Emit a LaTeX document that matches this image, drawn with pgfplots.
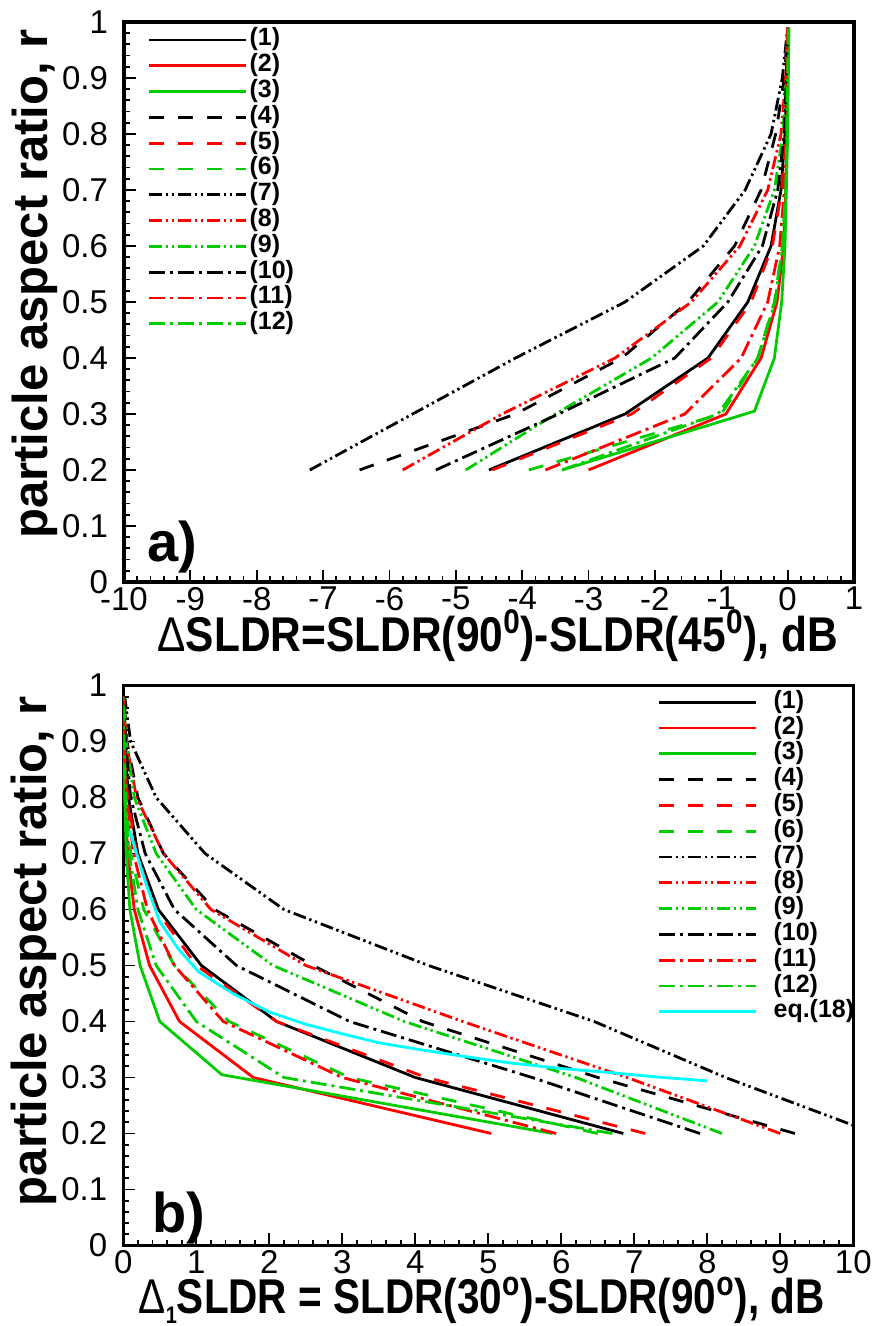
\documentclass[border=0pt]{standalone}
\usepackage{fontspec}
\setmainfont{Liberation Sans}
\newfontfamily\labfont[FakeStretch=0.87]{Liberation Sans}
\newfontfamily\labfontb[FakeStretch=0.83]{Liberation Sans}
\usepackage{pgfplots}
\pgfplotsset{compat=1.18}
\definecolor{myred}{RGB}{255,0,0}
\definecolor{mygreen}{RGB}{0,204,0}
\definecolor{mycyan}{RGB}{0,255,255}
\pgfplotsset{
 dsh/.style={dash pattern=on 7.5pt off 7pt},
 ddd/.style={dash pattern=on 6.5pt off 2pt on 1.2pt off 1.8pt on 1.2pt off 1.8pt},
 dd/.style={dash pattern=on 8pt off 2.5pt on 1.5pt off 2.5pt},
 myaxis/.style={
  scale only axis, width=365pt, height=280pt,
  ymin=0, ymax=1,
  ytick={0,0.1,0.2,0.3,0.4,0.5,0.6,0.7,0.8,0.9,1},
  yticklabels={0,0.1,0.2,0.3,0.4,0.5,0.6,0.7,0.8,0.9,1},
  minor y tick num=4, minor x tick num=4,
  xtick pos=left, ytick pos=left,
  tick align=inside,
  major tick length=6pt, minor tick length=3pt,
  tick style={black, line width=0.9pt},
  axis line style={line width=1.7pt},
  tick label style={font=\fontsize{16.5}{16.5}\selectfont},
  yticklabel style={xshift=-4.5pt},
  xticklabel style={yshift=1pt},
  ylabel={particle aspect ratio, r},
  ylabel style={font=\fontsize{24.5}{24.5}\selectfont\bfseries, inner sep=0pt, anchor=south},
  xlabel style={inner sep=0pt, anchor=base},
  every axis plot/.append style={line width=1.4pt},
  legend image code/.code={\draw[line width=1.4pt,##1] (0pt,0pt) -- (48.5pt,0pt);},
  legend style={draw=none, fill=none, font=\fontsize{12.5}{12.5}\selectfont\bfseries,
    nodes={inner sep=0pt, text height=9.2pt, text depth=3.2pt, anchor=west}, row sep=0.5pt},
  legend cell align=left,
 }
}
\begin{document}
\begin{tikzpicture}
\useasboundingbox (0,0) rectangle (437pt,663pt);
% ---------------- panel a ----------------
\begin{axis}[myaxis,
  at={(62pt,372pt)}, anchor=south west,
  xmin=-10, xmax=1,
  xtick={-10,-9,-8,-7,-6,-5,-4,-3,-2,-1,0,1},
  xticklabels={-10,-9,-8,-7,-6,-5,-4,-3,-2,-1,0,1},
  xlabel={{\mdseries Δ}SLDR=SLDR(90\textsuperscript{0})-SLDR(45\textsuperscript{0}), dB},
  xlabel style={font=\labfont\fontsize{24.4}{24.4}\selectfont\bfseries, at={(axis description cs:0.512,0)}, yshift=-35pt},
  ylabel style={at={(axis description cs:-0.0904,0.532)}},
  legend style={at={(axis description cs:0.0233,0.998)}, anchor=north west},
]
\addplot[black] coordinates {(-4.5,0.2)(-2.45,0.3)(-1.2,0.4)(-0.6,0.5)(-0.25,0.6)(-0.1,0.7)(-0.04,0.8)(-0.01,0.9)(0,0.99)};
\addlegendentry{\hspace{1.2pt}(1)}
\addplot[myred] coordinates {(-3.0,0.2)(-0.93,0.3)(-0.4,0.4)(-0.16,0.5)(-0.06,0.6)(-0.03,0.7)(-0.01,0.8)(0,0.9)(0.01,0.99)};
\addlegendentry{\hspace{1.2pt}(2)}
\addplot[mygreen] coordinates {(-3.4,0.2)(-0.5,0.305)(-0.2,0.4)(-0.09,0.5)(-0.04,0.6)(-0.02,0.7)(0,0.8)(0.01,0.9)(0.02,0.99)};
\addlegendentry{\hspace{1.2pt}(3)}
\addplot[black,dsh] coordinates {(-6.45,0.2)(-4.1,0.3)(-2.5,0.4)(-1.5,0.5)(-0.8,0.6)(-0.4,0.7)(-0.18,0.8)(-0.05,0.9)(0,0.99)};
\addlegendentry{\hspace{1.2pt}(4)}
\addplot[myred,dsh] coordinates {(-4.45,0.2)(-2.35,0.3)(-1.15,0.4)(-0.55,0.5)(-0.23,0.6)(-0.09,0.7)(-0.03,0.8)(-0.01,0.9)(0,0.99)};
\addlegendentry{\hspace{1.2pt}(5)}
\addplot[mygreen,dsh] coordinates {(-3.9,0.2)(-1.0,0.3)(-0.45,0.4)(-0.2,0.5)(-0.08,0.6)(-0.03,0.7)(-0.01,0.8)(0,0.9)(0.01,0.99)};
\addlegendentry{\hspace{1.2pt}(6)}
\addplot[black,ddd] coordinates {(-7.2,0.2)(-5.65,0.3)(-4.1,0.4)(-2.45,0.5)(-1.27,0.6)(-0.64,0.7)(-0.25,0.8)(-0.08,0.9)(0,0.99)};
\addlegendentry{\hspace{1.2pt}(7)}
\addplot[myred,ddd] coordinates {(-5.8,0.2)(-4.3,0.3)(-2.6,0.4)(-1.45,0.5)(-0.72,0.6)(-0.3,0.7)(-0.1,0.8)(-0.03,0.9)(0,0.99)};
\addlegendentry{\hspace{1.2pt}(8)}
\addplot[mygreen,ddd] coordinates {(-4.85,0.2)(-3.5,0.3)(-2.05,0.4)(-1.05,0.5)(-0.5,0.6)(-0.2,0.7)(-0.07,0.8)(-0.02,0.9)(0,0.99)};
\addlegendentry{\hspace{1.2pt}(9)}
\addplot[black,dd] coordinates {(-5.3,0.2)(-3.45,0.3)(-1.7,0.4)(-0.9,0.5)(-0.38,0.6)(-0.15,0.7)(-0.05,0.8)(-0.02,0.9)(0,0.99)};
\addlegendentry{\hspace{1.2pt}(10)}
\addplot[myred,dd] coordinates {(-3.65,0.2)(-1.55,0.3)(-0.7,0.4)(-0.3,0.5)(-0.12,0.6)(-0.05,0.7)(-0.02,0.8)(-0.01,0.9)(0,0.99)};
\addlegendentry{\hspace{1.2pt}(11)}
\addplot[mygreen,dd] coordinates {(-3.4,0.2)(-1.05,0.3)(-0.45,0.4)(-0.19,0.5)(-0.08,0.6)(-0.03,0.7)(-0.01,0.8)(0,0.9)(0.01,0.99)};
\addlegendentry{\hspace{1.2pt}(12)}
\node[anchor=base west, font=\fontsize{28}{28}\selectfont\bfseries, inner sep=0pt] at (axis description cs:0.031,0.036) {a)};
\end{axis}
% ---------------- panel b ----------------
\begin{axis}[myaxis,
  at={(61.65pt,40.25pt)}, anchor=south west,
  xmin=0, xmax=10,
  xtick={0,1,2,3,4,5,6,7,8,9,10},
  xticklabels={0,1,2,3,4,5,6,7,8,9,10},
  xlabel={{\mdseries Δ}\raisebox{-0.2em}{\fontsize{12}{12}\selectfont 1}SLDR = SLDR(30\textsuperscript{o})-SLDR(90\textsuperscript{o}), dB},
  xlabel style={font=\labfontb\fontsize{24.4}{24.4}\selectfont\bfseries, at={(axis description cs:0.491,0)}, yshift=-34pt},
  ylabel style={at={(axis description cs:-0.0904,0.525)}},
  legend style={at={(axis description cs:0.7226,1.0)}, anchor=north west},
]
\addplot[black] coordinates {(6.85,0.2)(4.0,0.3)(2.1,0.4)(1.07,0.5)(0.48,0.6)(0.2,0.7)(0.07,0.8)(0.02,0.9)(0.01,0.98)};
\addlegendentry{\hspace{8.3pt}(1)}
\addplot[myred] coordinates {(5.04,0.2)(1.78,0.3)(0.77,0.4)(0.36,0.5)(0.15,0.6)(0.06,0.7)(0.02,0.8)(0.01,0.9)(0,0.98)};
\addlegendentry{\hspace{8.3pt}(2)}
\addplot[mygreen] coordinates {(5.88,0.2)(1.35,0.305)(0.5,0.4)(0.23,0.5)(0.09,0.6)(0.04,0.7)(0.02,0.8)(0.01,0.9)(0,0.98)};
\addlegendentry{\hspace{8.3pt}(3)}
\addplot[black,dsh] coordinates {(9.2,0.2)(6.5,0.3)(4.1,0.4)(2.6,0.5)(1.25,0.6)(0.55,0.7)(0.2,0.8)(0.05,0.9)(0.01,0.98)};
\addlegendentry{\hspace{8.3pt}(4)}
\addplot[myred,dsh] coordinates {(7.15,0.2)(4.15,0.3)(2.1,0.4)(1.0,0.5)(0.45,0.6)(0.18,0.7)(0.06,0.8)(0.02,0.9)(0.01,0.98)};
\addlegendentry{\hspace{8.3pt}(5)}
\addplot[mygreen,dsh] coordinates {(6.5,0.2)(3.1,0.3)(1.45,0.4)(0.7,0.5)(0.28,0.6)(0.1,0.7)(0.04,0.8)(0.01,0.9)(0,0.98)};
\addlegendentry{\hspace{8.3pt}(6)}
\addplot[black,ddd] coordinates {(10.3,0.2)(8.25,0.3)(6.45,0.4)(4.18,0.5)(2.2,0.6)(1.12,0.7)(0.45,0.8)(0.1,0.9)(0.02,0.98)};
\addlegendentry{\hspace{8.3pt}(7)}
\addplot[myred,ddd] coordinates {(9.0,0.2)(6.9,0.3)(4.65,0.4)(2.5,0.5)(1.2,0.6)(0.55,0.7)(0.18,0.8)(0.04,0.9)(0.01,0.98)};
\addlegendentry{\hspace{8.3pt}(8)}
\addplot[mygreen,ddd] coordinates {(8.2,0.2)(6.2,0.3)(3.85,0.4)(2.05,0.5)(1.0,0.6)(0.45,0.7)(0.15,0.8)(0.04,0.9)(0.01,0.98)};
\addlegendentry{\hspace{8.3pt}(9)}
\addplot[black,dd] coordinates {(7.9,0.2)(5.6,0.3)(3.1,0.4)(1.55,0.5)(0.7,0.6)(0.3,0.7)(0.1,0.8)(0.03,0.9)(0.01,0.98)};
\addlegendentry{\hspace{8.3pt}(10)}
\addplot[myred,dd] coordinates {(5.93,0.2)(3.0,0.3)(1.37,0.4)(0.7,0.5)(0.33,0.6)(0.14,0.7)(0.05,0.8)(0.01,0.9)(0,0.98)};
\addlegendentry{\hspace{8.3pt}(11)}
\addplot[mygreen,dd] coordinates {(6.7,0.2)(2.2,0.3)(1.0,0.4)(0.45,0.5)(0.2,0.6)(0.08,0.7)(0.03,0.8)(0.01,0.9)(0,0.98)};
\addlegendentry{\hspace{8.3pt}(12)}
\addplot[mycyan] coordinates {(0.09,0.74)(0.3,0.65)(0.5,0.578)(0.75,0.53)(1.03,0.489)(1.5,0.45)(2.0,0.417)(2.5,0.395)(3.0,0.378)(3.5,0.362)(4.1,0.349)(4.7,0.337)(5.3,0.326)(6.0,0.316)(6.65,0.309)(7.3,0.301)(8.0,0.294)};
\addlegendentry{\hspace{8.3pt}eq.(18)}
\node[anchor=base west, font=\fontsize{28}{28}\selectfont\bfseries, inner sep=0pt] at (axis description cs:0.039,0.024) {b)};
\end{axis}
\end{tikzpicture}
\end{document}
